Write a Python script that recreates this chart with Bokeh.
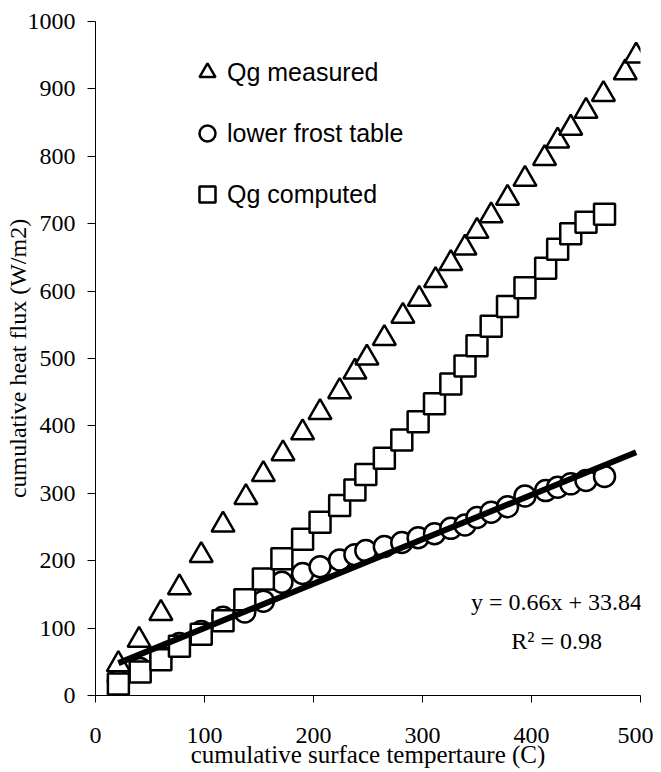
from bokeh.plotting import figure
from bokeh.models import Range1d, FixedTicker, Legend, LegendItem, Label, ColumnDataSource
from bokeh.embed import file_html
from bokeh.resources import INLINE

# ---- data ----
meas_x = [21, 40, 60, 77, 97, 117, 138, 154, 172, 190, 206, 224, 238, 249, 265, 282,
          297, 312, 326, 339, 350, 363, 378, 394, 412, 424, 436, 450, 466, 486, 496]
meas_y = [46, 82, 122, 160, 208, 253, 294, 328, 359, 390, 420, 451, 480, 501, 530, 563,
          588, 616, 641, 664, 689, 712, 738, 766, 797, 823, 842, 867, 892, 924, 949]

comp_x = [21, 41, 60, 77, 97, 117, 137, 154, 171, 190, 206, 224, 238, 248, 265, 281,
          296, 311, 326, 339, 350, 363, 378, 394, 413, 424, 436, 450, 467]
comp_y = [17, 35, 53, 73, 91, 111, 142, 173, 203, 232, 257, 282, 305, 328, 352, 379,
          406, 433, 462, 489, 519, 548, 577, 605, 634, 662, 685, 702, 714]

frost_x = [21, 41, 60, 77, 97, 117, 137, 154, 171, 190, 206, 224, 238, 248, 265, 281,
           296, 311, 326, 339, 350, 363, 378, 394, 413, 424, 436, 450, 467]
frost_y = [22, 40, 58, 77, 95, 116, 124, 140, 168, 181, 191, 201, 209, 215, 221, 227,
           234, 240, 248, 253, 264, 272, 280, 296, 304, 309, 314, 319, 325]

trend_x = [21, 496]
trend_y = [48, 361]

x_ticks = [0, 100, 200, 300, 400, 500]
y_ticks = [0, 100, 200, 300, 400, 500, 600, 700, 800, 900, 1000]

equation_text = "y = 0.66x + 33.84"
r2_text = "R\u00b2 = 0.98"

SERIF = "Liberation Serif"
SANS = "Liberation Sans"

p = figure(width=653, height=770, x_range=Range1d(0, 500), y_range=Range1d(0, 1000),
           output_backend="svg", toolbar_location=None,
           min_border_left=95, min_border_top=21, min_border_right=13, min_border_bottom=75)

p.outline_line_color = None
p.xgrid.grid_line_color = None
p.ygrid.grid_line_color = None
p.background_fill_color = "white"
p.border_fill_color = "white"

for ax in (p.xaxis[0], p.yaxis[0]):
    ax.axis_line_color = "black"
    ax.axis_line_width = 1
    ax.major_tick_line_color = "black"
    ax.major_tick_in = 0
    ax.minor_tick_line_color = None
    ax.major_label_text_font = SERIF
    ax.major_label_text_font_size = "24px"
    ax.major_label_text_color = "black"
    ax.axis_label_text_font = SERIF
    ax.axis_label_text_font_style = "normal"
    ax.axis_label_text_color = "black"

p.xaxis.axis_label_text_font_size = "25px"
p.yaxis.axis_label_text_font_size = "24px"
p.xaxis.ticker = FixedTicker(ticks=x_ticks)
p.yaxis.ticker = FixedTicker(ticks=y_ticks)
p.xaxis.major_tick_out = 7
p.yaxis.major_tick_out = 8
p.xaxis.major_label_standoff = 25
p.yaxis.major_label_standoff = 12
p.xaxis.axis_label = "cumulative surface tempertaure (C)"
p.yaxis.axis_label = "cumulative heat flux (W/m2)"
p.xaxis.axis_label_standoff = -5
p.yaxis.axis_label_standoff = -6

src_f = ColumnDataSource(dict(x=frost_x, y=frost_y))
src_c = ColumnDataSource(dict(x=comp_x, y=comp_y))
src_m = ColumnDataSource(dict(x=meas_x, y=meas_y))

r_f = p.scatter("x", "y", source=src_f, marker="circle", size=21,
                fill_color="white", line_color="black", line_width=2.5)
r_c = p.scatter("x", "y", source=src_c, marker="square", size=21,
                fill_color="white", line_color="black", line_width=2.5)
r_m = p.scatter("x", "y", source=src_m, marker="triangle", size=23,
                fill_color="white", line_color="black", line_width=2.5)
p.line(trend_x, trend_y, line_color="black", line_width=6)

legend = Legend(items=[LegendItem(label="Qg measured", renderers=[r_m]),
                       LegendItem(label="lower frost table", renderers=[r_f]),
                       LegendItem(label="Qg computed", renderers=[r_c])],
                location=(92, 481), orientation="vertical",
                glyph_width=40, glyph_height=40, label_height=40, spacing=21,
                padding=0, margin=0, label_standoff=0,
                border_line_color=None, background_fill_alpha=0,
                label_text_font=SANS, label_text_font_size="25px",
                label_text_color="black", label_text_baseline="middle")
p.add_layout(legend)

p.add_layout(Label(x=423, y=138, text=equation_text, text_align="center",
                   text_baseline="middle", text_font=SERIF, text_font_size="24px",
                   text_color="black"))
p.add_layout(Label(x=423, y=81, text=r2_text, text_align="center",
                   text_baseline="middle", text_font=SERIF, text_font_size="24px",
                   text_color="black"))

open("out.html", "w").write(file_html(p, INLINE))
